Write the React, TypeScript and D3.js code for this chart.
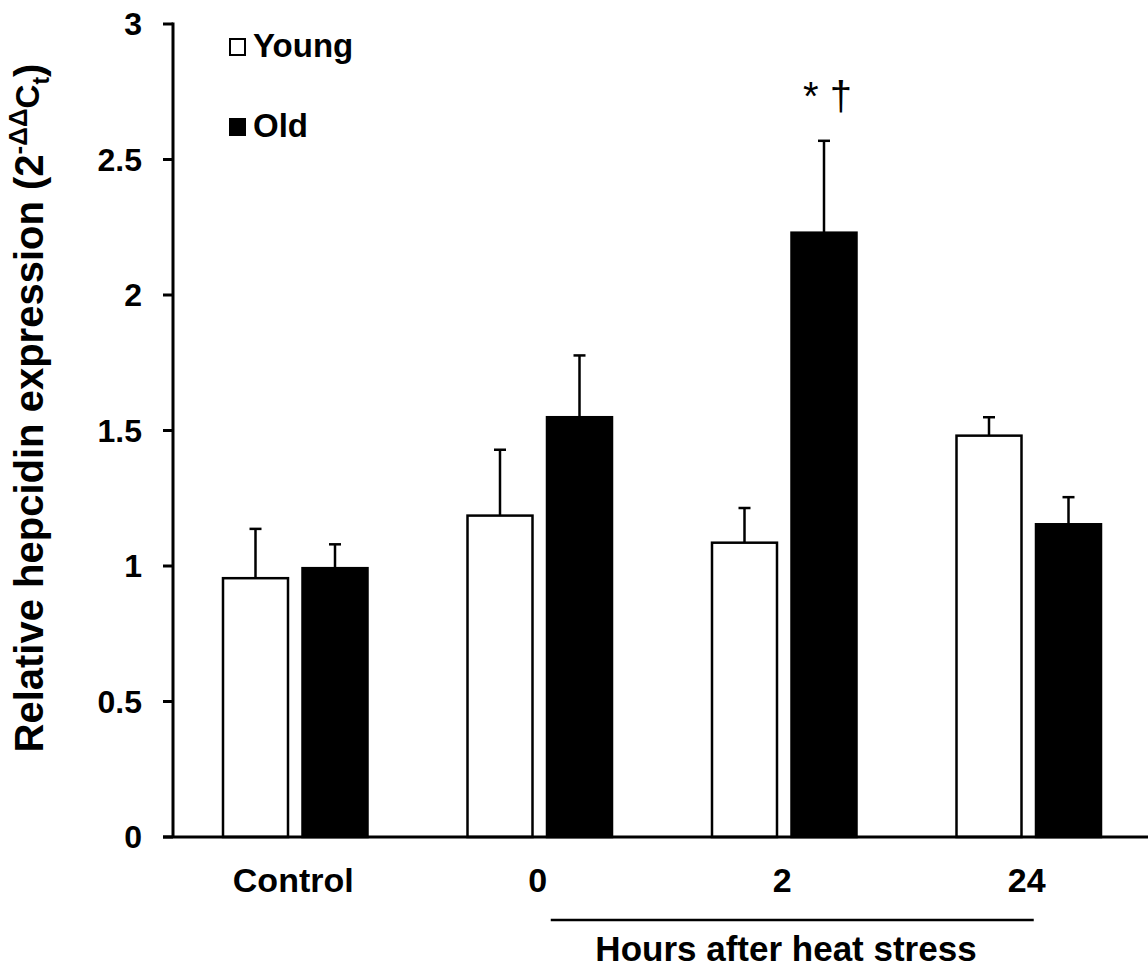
import * as d3 from "d3";

const categories = ["Control", "0", "2", "24"];
const series = ["Young", "Old"];
const youngMean = [0.955, 1.186, 1.086, 1.481];
const youngSem = [0.182, 0.243, 0.128, 0.068];
const oldMean = [0.992, 1.549, 2.23, 1.154];
const oldSem = [0.088, 0.228, 0.339, 0.1];
const yTicks = [0, 0.5, 1, 1.5, 2, 2.5, 3];
const oldMarks = ["", "", "* †", ""];

const W = 1148;
const H = 971;
const AXIS_X = 173;
const FONT = "'Liberation Sans', Arial, Helvetica, sans-serif";
const fills: Record<string, string> = { Young: "#ffffff", Old: "#000000" };

export default function App() {
  const y = d3.scaleLinear().domain([0, 3]).range([837, 24]);
  const x0 = d3.scaleBand<string>().domain(categories).range([AXIS_X, 1151]);
  const x1 = d3
    .scaleBand<string>()
    .domain(series)
    .range([-72.25, 72.25])
    .paddingInner(0.1824);

  const rows = categories.map((c, i) => ({
    cat: c,
    vals: [
      { s: "Young", mean: youngMean[i], sem: youngSem[i], mark: "" },
      { s: "Old", mean: oldMean[i], sem: oldSem[i], mark: oldMarks[i] },
    ],
  }));

  const bw = x1.bandwidth();
  const capHalf = 6;
  const center = (c: string) => x0(c)! + x0.bandwidth() / 2;

  // bracket under the heat stress groups
  const lineX1 = center("0") + 11;
  const lineX2 = center("24") + 5;

  return (
    <svg
      width={W}
      height={H}
      style={{ position: "absolute", left: 0, top: 0, background: "#fff" }}
      fontFamily={FONT}
    >
      {/* y title */}
      <text
        transform={`translate(43, 408) rotate(-90)`}
        textAnchor="middle"
        fontSize={40}
        fontWeight="bold"
        fill="#000"
      >
        Relative hepcidin expression (2
        <tspan fontSize={26} dy={-16}>-ΔΔ</tspan>
        <tspan fontSize={33} dy={12}>C</tspan>
        <tspan fontSize={23} dy={10}>t</tspan>
        <tspan dy={-6}>)</tspan>
      </text>

      {/* bars */}
      {rows.map((r) => {
        const cx = center(r.cat);
        return (
          <g key={r.cat}>
            {r.vals.map((v) => {
              const left = cx + x1(v.s)!;
              const mid = left + bw / 2;
              const top = y(v.mean);
              const errTop = y(v.mean + v.sem);
              return (
                <g key={v.s}>
                  <line x1={mid} x2={mid} y1={top} y2={errTop} stroke="#000" strokeWidth={2.5} />
                  <line
                    x1={mid - capHalf}
                    x2={mid + capHalf}
                    y1={errTop}
                    y2={errTop}
                    stroke="#000"
                    strokeWidth={2.5}
                  />
                  <rect
                    x={left}
                    y={top}
                    width={bw}
                    height={y(0) - top}
                    fill={fills[v.s]}
                    stroke="#000"
                    strokeWidth={2.5}
                  />
                  {v.mark && (
                    <text x={mid - 21} y={110} fontSize={40} fill="#000">
                      {v.mark}
                    </text>
                  )}
                </g>
              );
            })}
          </g>
        );
      })}

      {/* y axis */}
      <line x1={AXIS_X} x2={AXIS_X} y1={y(3) - 1.5} y2={y(0)} stroke="#000" strokeWidth={3} />
      {yTicks.map((t) => (
        <g key={t}>
          <line x1={AXIS_X - 10} x2={AXIS_X} y1={y(t)} y2={y(t)} stroke="#000" strokeWidth={3} />
          <text
            x={142}
            y={y(t)}
            textAnchor="end"
            dominantBaseline="central"
            fontSize={32}
            fontWeight="bold"
            fill="#000"
          >
            {String(t)}
          </text>
        </g>
      ))}

      {/* x axis */}
      <line x1={AXIS_X - 10} x2={W} y1={y(0)} y2={y(0)} stroke="#000" strokeWidth={3} />
      {categories.map((c) => (
        <text
          key={c}
          x={center(c) - 2}
          y={892}
          textAnchor="middle"
          fontSize={34}
          fontWeight="bold"
          fill="#000"
        >
          {c}
        </text>
      ))}

      <line x1={lineX1} x2={lineX2} y1={920} y2={920} stroke="#000" strokeWidth={2.7} />
      <text
        x={786}
        y={961}
        textAnchor="middle"
        fontSize={35}
        fontWeight="bold"
        fill="#000"
      >
        Hours after heat stress
      </text>

      {/* legend */}
      {series.map((s, i) => (
        <g key={s} transform={`translate(229, ${38 + i * 80})`}>
          <rect x={1} y={1} width={15} height={16} fill={fills[s]} stroke="#000" strokeWidth={2} />
          <text x={24} y={19} fontSize={33} fontWeight="bold" fill="#000">
            {s}
          </text>
        </g>
      ))}
    </svg>
  );
}
